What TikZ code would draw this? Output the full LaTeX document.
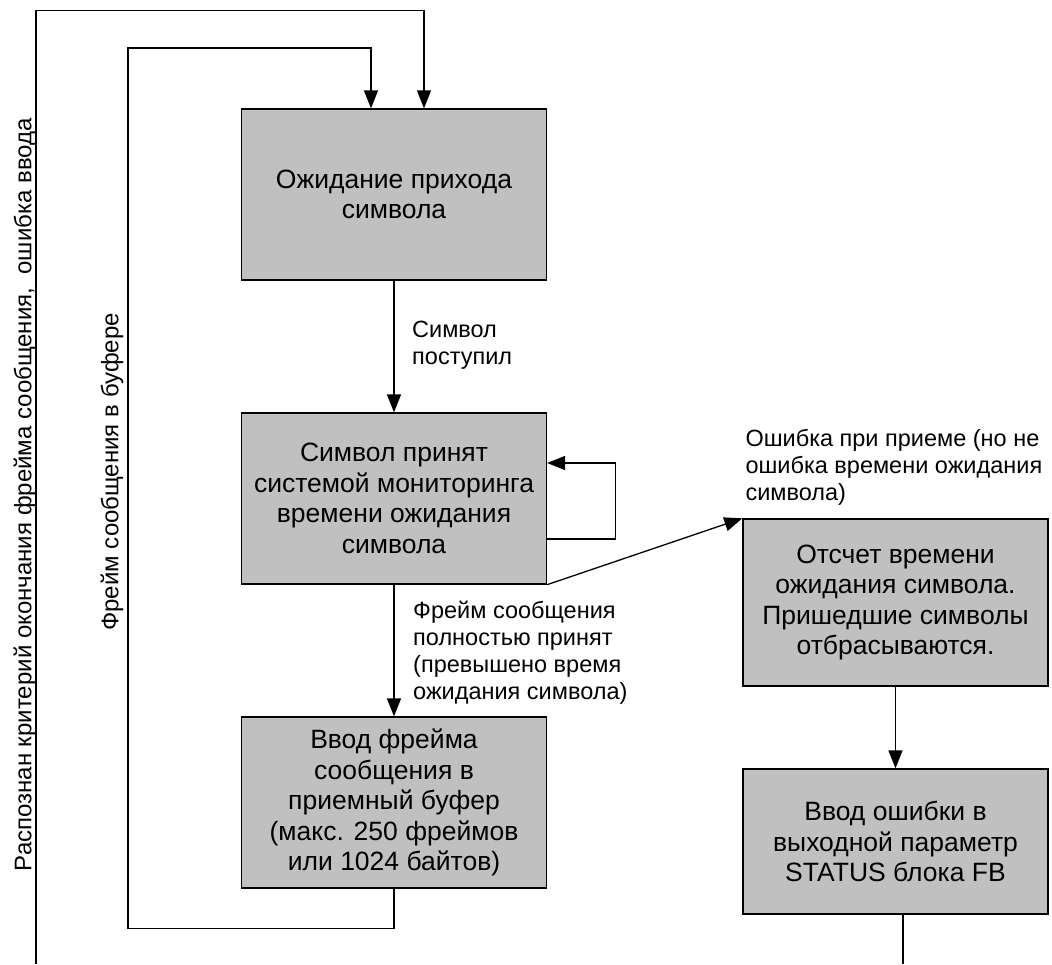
\documentclass[tikz,border=0pt]{standalone}
\usepackage{fontspec}
\setmainfont{Liberation Sans}
\usetikzlibrary{arrows.meta,calc}
\definecolor{boxgray}{HTML}{C0C0C0}
\begin{document}
\begin{tikzpicture}[x=1pt,y=-1pt,
  stepbox/.style={draw=black, line width=1.3pt, fill=boxgray,
    minimum width=305pt, minimum height=171pt, inner sep=0pt,
    align=center, font=\fontsize{26.5}{30.5}\selectfont},
  lbl/.style={inner sep=0pt, align=left, font=\fontsize{23.5}{27}\selectfont},
  sidelbl/.style={inner sep=0pt, rotate=90, font=\fontsize{24}{28}\selectfont},
  wire/.style={line width=1.3pt},
  flow/.style={wire, -{Triangle[length=18pt,width=14pt]}}]
\useasboundingbox (0,0) rectangle (1052,964);

% states of the receiver
\node[stepbox] (wait)  at (394,194.5) {Ожидание прихода\\символа};
\node[stepbox] (recv)  at (394,498.5) {Символ принят\\системой мониторинга\\времени ожидания\\символа};
\node[stepbox] (buf)   at (394,802.5) {Ввод фрейма\\сообщения в\\приемный буфер\\(макс. 250 фреймов\\или 1024 байтов)};
\node[stepbox, minimum height=167pt] (count) at (895.5,602.5) {Отсчет времени\\ожидания символа.\\Пришедшие символы\\отбрасываются.};
\node[stepbox, minimum height=145pt] (err)   at (895.5,841.5) {Ввод ошибки в\\выходной параметр\\STATUS блока FB};

% transitions
\draw[flow] (wait) -- (recv);
\node[lbl, anchor=west] (lblin) at (412,345) {Символ\\поступил};

\draw[flow] (recv) -- (buf);
\node[lbl, anchor=west] (lblframe) at (413,653) {Фрейм сообщения\\полностью принят\\(превышено время\\ожидания символа)};

\draw[flow] ($(recv.east)+(0,40.5)$) -- ++(68,0) |- ($(recv.east)+(0,-35.5)$);

\draw[flow] (recv.south east) -- (count.north west);
\node[lbl, anchor=south west] (lblerr) at ($(count.north west)+(3,-13)$) {Ошибка при приеме (но не\\ошибка времени ожидания\\символа)};

\draw[flow] (count) -- (err);
\coordinate (errout) at (903,964);
\draw[wire] (err.south -| errout) -- (errout);

% return paths to the idle state
\coordinate (bufout) at ($(buf.south)+(0,40)$);
\draw[flow] (buf.south) -- (bufout) -| (128,48) -| ($(wait.north)+(-23,0)$);
\node[sidelbl] (lblbuf) at (112,472) {Фрейм сообщения в буфере};

\coordinate (errin) at (36,964);
\draw[flow] (errin) |- ($(wait.north)+(30,-98)$) -- ($(wait.north)+(30,0)$);
\node[sidelbl, anchor=east] (lblend) at (25,118) {Распознан критерий окончания фрейма сообщения, \ ошибка ввода};
\end{tikzpicture}
\end{document}
